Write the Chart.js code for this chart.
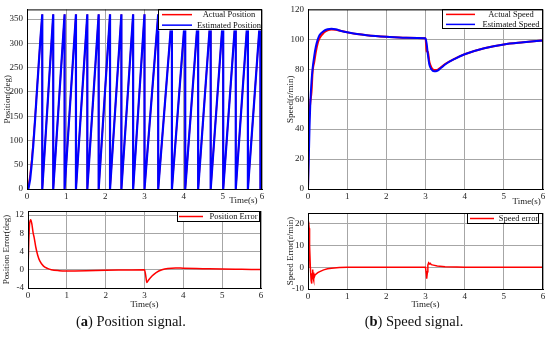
<!DOCTYPE html>
<html>
<head>
<meta charset="utf-8">
<script src="https://cdn.jsdelivr.net/npm/chart.js@4.4.1/dist/chart.umd.min.js"></script>
<style>
  body { margin: 0; background: #fff; width: 550px; height: 343px; position: relative; overflow: hidden; font-family: "Liberation Serif", serif; }
  canvas { position: absolute; }
  .cap { position: absolute; top: 313px; font-size: 14.5px; text-align: center; color: #111; white-space: nowrap; }
</style>
</head>
<body>
<canvas id="posChart" width="275" height="206" style="left:0;top:0"></canvas>
<canvas id="speedChart" width="275" height="207" style="left:275px;top:0"></canvas>
<canvas id="posErrChart" width="275" height="110" style="left:0;top:200px"></canvas>
<canvas id="speedErrChart" width="275" height="110" style="left:275px;top:200px"></canvas>
<div class="cap" style="left:0;width:262px">(<b>a</b>) Position signal.</div>
<div class="cap" style="left:300px;width:228px">(<b>b</b>) Speed signal.</div>

<script>
// ---- position (deg): start-up ramp, then wrap instants of the 0..360 sawtooth
const startTime = [0, 0.04, 0.08, 0.12, 0.16, 0.2, 0.25, 0.3, 0.35];
const actualStart = [0, 8, 30, 60, 97, 140, 200, 260, 318];
const estStart = [0, 2, 20, 51, 90, 135, 197, 258, 317];
const wrapTimes = [0.39, 0.67, 0.96, 1.25, 1.54, 1.83, 2.12, 2.41, 2.71, 3.00,
                   3.35, 3.70, 4.04, 4.37, 4.69, 5.01, 5.33, 5.64, 5.96];
const endTime = 6, endPosition = 50;

// ---- speed (r/min)
const speedTime = [0, 0.02, 0.04, 0.06, 0.09, 0.12, 0.16, 0.2, 0.25, 0.3, 0.4, 0.5, 0.6, 0.7, 0.85,
                   1.0, 1.25, 1.5, 2.0, 2.5, 3.0, 3.03, 3.06, 3.1, 3.15, 3.22, 3.3, 3.4, 3.5, 3.75,
                   4.0, 4.5, 5.0, 5.5, 6.0];
const actualSpeed = [0, 41, 52, 58, 65, 79, 85, 91.5, 97.5, 101, 104.3, 106, 106.6, 106.4, 105.5,
                     104.7, 103.5, 102.7, 101.7, 101.1, 100.7, 92, 91.5, 84.8, 81.2, 79.5, 79.6, 81.4, 83.5, 87.1,
                     90, 94, 96.6, 98, 99.2];
const estSpeed = [0, 20, 42, 58, 72, 81, 89, 95, 100, 103, 105.5, 106.7, 107, 106.7, 105.6,
                  104.7, 103.5, 102.7, 101.7, 101.1, 100.7, 97, 90, 83, 80, 78.6, 79, 81, 83.2, 87,
                  90, 94, 96.6, 98, 99.2];

// ---- position error (deg)
const posErrTime = [0, 0.02, 0.04, 0.07, 0.1, 0.13, 0.16, 0.2, 0.25, 0.3, 0.4, 0.5, 0.6, 0.8, 1.0,
                    1.5, 2.0, 2.5, 3.0, 3.03, 3.06, 3.1, 3.2, 3.3, 3.45, 3.6, 3.8, 4.0, 4.5, 5.0, 5.5, 6.0];
const posErr = [0, 6, 10, 11, 10, 8.2, 7, 5, 3.2, 2, 0.8, 0.3, 0, -0.2, -0.25,
                -0.2, -0.1, -0.05, 0, -1.2, -2.8, -2.3, -1.3, -0.6, 0, 0.3, 0.4, 0.35, 0.25, 0.15, 0.1, 0.05];

// ---- speed error (r/min)
const speedErrTime = [0, 0.01, 0.02, 0.03, 0.04, 0.06, 0.08, 0.09, 0.1, 0.11, 0.12, 0.13, 0.14, 0.15, 0.16,
                      0.18, 0.2, 0.25, 0.3, 0.4, 0.5, 0.6, 0.8, 1.0, 3.0, 3.02, 3.03, 3.05, 3.06, 3.08,
                      3.1, 3.12, 3.15, 3.2, 3.3, 3.5, 3.8, 4.0, 6.0];
const speedErr = [0, 15, 21, 18, 10, 0, -6, -7.5, -5, -3, -1, -5, -6, -2.5, -4.5,
                  -3.5, -3.5, -2.5, -2, -1.2, -0.7, -0.4, -0.1, 0, 0, -3, -5.2, -2, 1, 2,
                  1.5, 1.8, 1.2, 1, 0.6, 0.3, 0.1, 0, 0];

const RED = '#ff0000', BLUE = '#0000ff';
const gridColor = '#a6a6a6';
const tickFont = { family: 'Liberation Serif', size: 9 };
const titleFont = { family: 'Liberation Serif', size: 9 };
const NB = '\u00a0';

function pairs(xs, ys) { return xs.map((x, i) => ({ x, y: ys[i] })); }

function sawtooth(tStart, yStart) {
  const pts = pairs(tStart, yStart);
  wrapTimes.forEach(t => { pts.push({ x: t, y: 360 }, { x: t, y: 0 }); });
  pts.push({ x: endTime, y: endPosition });
  return pts;
}

// frame round the plot area and a boxed legend in its top-right corner
const framePlugin = {
  id: 'frameLegend',
  afterDraw(chart, args, opts) {
    const { ctx, chartArea: a } = chart;
    ctx.save();
    const w = opts.width, h = opts.height;
    const x0 = a.right - opts.right - w, y0 = a.top;
    ctx.fillStyle = '#fff';
    ctx.fillRect(x0, y0, w, h);
    ctx.strokeStyle = '#000';
    ctx.lineWidth = 1;
    ctx.strokeRect(Math.round(x0) + 0.5, Math.round(y0) + 0.5, w - 1, h - 1);
    const sets = chart.data.datasets;
    ctx.font = '8.5px "Liberation Serif"';
    ctx.textAlign = 'center';
    ctx.textBaseline = 'middle';
    sets.forEach((ds, i) => {
      const y = y0 + h * (i + 0.5) / sets.length;
      ctx.strokeStyle = ds.borderColor;
      ctx.lineWidth = 1.5;
      ctx.beginPath();
      ctx.moveTo(x0 + opts.lineStart, y);
      ctx.lineTo(x0 + opts.lineEnd, y);
      ctx.stroke();
      ctx.fillStyle = '#111';
      ctx.fillText(ds.label, x0 + (opts.lineEnd + 4 + w) / 2, y + 0.5);
    });
    ctx.strokeStyle = '#000';
    ctx.lineWidth = 1;
    ctx.strokeRect(a.left + 0.5, a.top + 0.5, a.right - a.left - 1, a.bottom - a.top);
    ctx.restore();
  }
};

function xScale(height, align, text) {
  return {
    type: 'linear', min: 0, max: 6,
    ticks: { stepSize: 1, padding: 2, color: '#222', font: tickFont, maxRotation: 0 },
    grid: { color: gridColor, drawTicks: false },
    border: { color: '#000' },
    title: { display: true, text: text, align: align, color: '#222', font: titleFont, padding: { top: 0, bottom: 0 } },
    afterFit: s => { s.height = height; }
  };
}

function yScale(width, min, max, step, label, titlePad, every) {
  return {
    min, max,
    ticks: {
      stepSize: step, padding: 4, color: '#222', font: tickFont, includeBounds: false,
      callback: v => (v % every === 0 ? v : '')
    },
    grid: { color: gridColor, drawTicks: false },
    border: { color: '#000' },
    title: { display: true, text: label, color: '#222', font: titleFont, padding: { top: titlePad, bottom: 0 } },
    afterFit: s => { s.width = width; }
  };
}

function makeChart(id, datasets, x, y, padding, legend) {
  return new Chart(document.getElementById(id), {
    type: 'line',
    data: { datasets },
    options: {
      responsive: false,
      animation: false,
      parsing: false,
      layout: { padding },
      elements: { point: { radius: 0 } },
      scales: { x, y },
      plugins: { legend: { display: false }, tooltip: { enabled: false }, frameLegend: legend }
    },
    plugins: [framePlugin]
  });
}

makeChart('posChart', [
  { label: 'Actual Position', data: sawtooth(startTime, actualStart), borderColor: RED, borderWidth: 1.5, tension: 0, order: 1 },
  { label: 'Estimated Position', data: sawtooth(startTime, estStart), borderColor: BLUE, borderWidth: 2.2, tension: 0, order: 0 }
], xScale(17, 'end', 'Time(s)' + NB + NB), yScale(27, 0, 370, 50, 'Position(deg)', 2, 50),
  { top: 4, right: 13, left: 0, bottom: 0 },
  { width: 104, height: 21, right: 0, lineStart: 4, lineEnd: 34 });

makeChart('speedChart', [
  { label: 'Actual Speed', data: pairs(speedTime, actualSpeed), borderColor: RED, borderWidth: 2, cubicInterpolationMode: 'monotone', order: 1 },
  { label: 'Estimated Speed', data: pairs(speedTime, estSpeed), borderColor: BLUE, borderWidth: 2, cubicInterpolationMode: 'monotone', order: 0 }
], xScale(18, 'end', 'Time(s)' + NB), yScale(33, 0, 120, 20, 'Speed(r/min)', 10, 20),
  { top: 5, right: 7, left: 0, bottom: 0 },
  { width: 101, height: 20, right: 0, lineStart: 4, lineEnd: 33 });

makeChart('posErrChart', [
  { label: 'Position Error', data: pairs(posErrTime, posErr), borderColor: RED, borderWidth: 1.5, cubicInterpolationMode: 'monotone' }
], xScale(22, 'center', 'Time(s)'), yScale(28, -4, 12.9, 2, 'Position Error(deg)', 1, 4),
  { top: 11, right: 14, left: 0, bottom: 0 },
  { width: 83, height: 11, right: 1, lineStart: 2, lineEnd: 26 });

makeChart('speedErrChart', [
  { label: 'Speed error', data: pairs(speedErrTime, speedErr), borderColor: RED, borderWidth: 1.5, tension: 0 }
], xScale(21, 'center', 'Time(s)'), yScale(33, -10, 25, 5, 'Speed Error(r/min)', 10, 10),
  { top: 13, right: 7, left: 0, bottom: 0 },
  { width: 72, height: 11, right: 4, lineStart: 3, lineEnd: 27 });
</script>
</body>
</html>
